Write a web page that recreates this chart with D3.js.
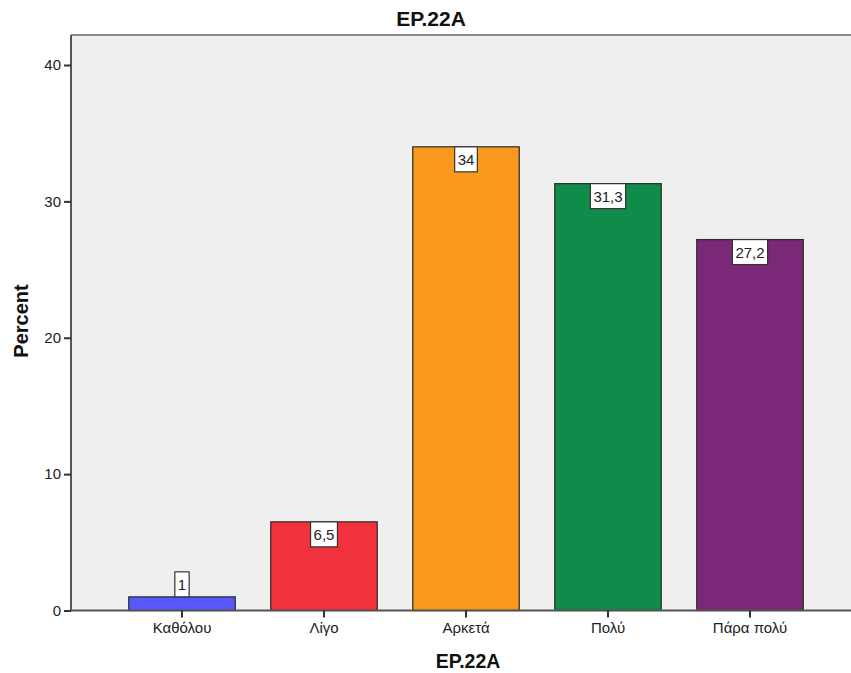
<!DOCTYPE html>
<html>
<head>
<meta charset="utf-8">
<script src="https://cdn.jsdelivr.net/npm/d3@7"></script>
<style>
  html, body { margin: 0; padding: 0; background: #fff; }
  svg { display: block; font-family: "Liberation Sans", Arial, sans-serif; }
</style>
</head>
<body>
<svg id="chart" width="851" height="673"></svg>
<script>
// Response categories and their percentages
const categories = ["Καθόλου", "Λίγο", "Αρκετά", "Πολύ", "Πάρα πολύ"];
const percents = [1, 6.5, 34, 31.3, 27.2];
const barColors = ["#5757fb", "#f0323c", "#f99a1e", "#108c4a", "#7a2877"];
const yTicks = [0, 10, 20, 30, 40];
const titleText = "EP.22A";
const xTitle = "EP.22A";
const yTitle = "Percent";

const svg = d3.select("#chart");
const W = 851, H = 673;
const plot = { left: 71, top: 35, right: 851, bottom: 610.5 };

const y = d3.scaleLinear().domain([0, 42.2]).range([plot.bottom, plot.top]);
const x = d3.scaleBand()
  .domain(categories)
  .range([111, 821])
  .paddingInner(0.25)
  .paddingOuter(0.125);

// plot background
svg.append("rect")
  .attr("x", plot.left).attr("y", plot.top)
  .attr("width", plot.right - plot.left).attr("height", plot.bottom - plot.top)
  .attr("fill", "#efefef");

// top frame line
svg.append("line")
  .attr("x1", plot.left).attr("x2", plot.right)
  .attr("y1", plot.top).attr("y2", plot.top)
  .attr("stroke", "#8a8a8a").attr("stroke-width", 2);

// bars
const data = categories.map((c, i) => ({ c, v: percents[i], col: barColors[i] }));
svg.append("g").selectAll("rect")
  .data(data).join("rect")
  .attr("x", d => x(d.c))
  .attr("y", d => y(d.v))
  .attr("width", x.bandwidth())
  .attr("height", d => y(0) - y(d.v))
  .attr("fill", d => d.col)
  .attr("stroke", "#2a2a2a")
  .attr("stroke-width", 1.2);

// y axis
const yAxis = svg.append("g")
  .attr("transform", `translate(${plot.left},0)`)
  .call(d3.axisLeft(y).tickValues(yTicks).tickSize(7).tickPadding(3).tickSizeOuter(0));
yAxis.select(".domain").attr("stroke", "#555").attr("stroke-width", 2)
  .attr("d", `M0,${plot.top}V${plot.bottom}`);
yAxis.selectAll(".tick line").attr("stroke", "#333").attr("stroke-width", 2);
yAxis.selectAll(".tick text").attr("font-size", 15).attr("fill", "#222")
  .attr("font-family", "Liberation Sans, Arial, sans-serif");

// x axis
const xAxis = svg.append("g")
  .attr("transform", `translate(0,${plot.bottom})`)
  .call(d3.axisBottom(x).tickSize(7).tickPadding(5).tickSizeOuter(0));
xAxis.select(".domain").attr("stroke", "#555").attr("stroke-width", 2)
  .attr("d", `M${plot.left},0H${plot.right}`);
xAxis.selectAll(".tick line").attr("stroke", "#333").attr("stroke-width", 2);
xAxis.selectAll(".tick text").attr("font-size", 15).attr("fill", "#222")
  .attr("font-family", "Liberation Sans, Arial, sans-serif");

// value labels in white boxes
const fmt = v => String(v).replace(".", ",");
const labels = svg.append("g").selectAll("g")
  .data(data).join("g");
labels.each(function (d) {
  const g = d3.select(this);
  const t = g.append("text")
    .attr("font-size", 15)
    .attr("fill", "#222")
    .attr("text-anchor", "middle")
    .text(fmt(d.v));
  const tw = t.node().getComputedTextLength();
  const bw = tw + 6, bh = 25;
  const cx = x(d.c) + x.bandwidth() / 2;
  const top = y(d.v);
  // a box that does not fit inside the bar sits on top of it
  const by = (y(0) - top) < bh + 2 ? top - bh : top;
  g.insert("rect", "text")
    .attr("x", cx - bw / 2).attr("y", by)
    .attr("width", bw).attr("height", bh)
    .attr("fill", "#fff").attr("stroke", "#333").attr("stroke-width", 1.2);
  t.attr("x", cx).attr("y", by + bh / 2 + 5.5);
});

// titles
svg.append("text")
  .attr("x", 431).attr("y", 26)
  .attr("text-anchor", "middle")
  .attr("font-size", 21).attr("font-weight", "bold").attr("fill", "#111")
  .text(titleText);

svg.append("text")
  .attr("x", 468).attr("y", 668)
  .attr("text-anchor", "middle")
  .attr("font-size", 19.5).attr("font-weight", "bold").attr("fill", "#111")
  .text(xTitle);

svg.append("text")
  .attr("transform", "translate(28,321) rotate(-90)")
  .attr("text-anchor", "middle")
  .attr("font-size", 20).attr("font-weight", "bold").attr("fill", "#111")
  .text(yTitle);
</script>
</body>
</html>
